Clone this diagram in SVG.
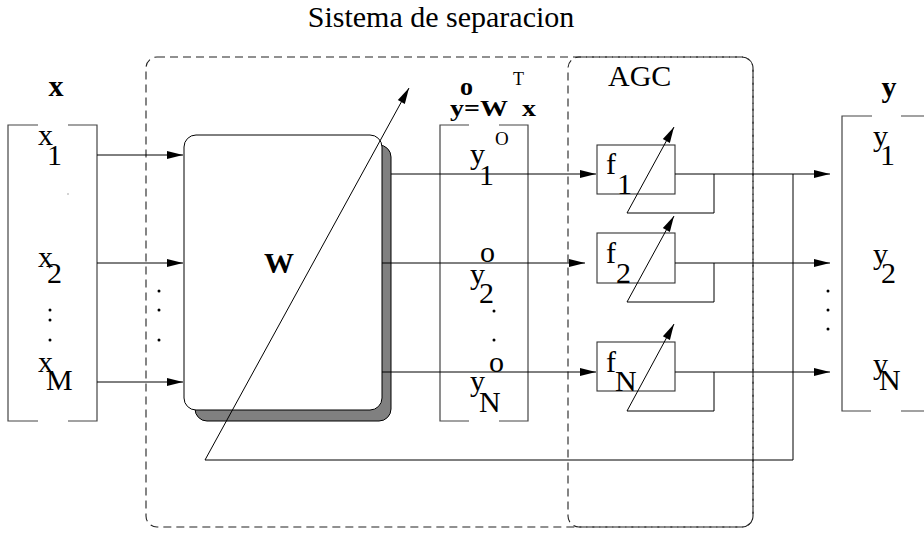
<svg xmlns="http://www.w3.org/2000/svg" width="924" height="534" viewBox="0 0 924 534">
<defs>
<marker id="ah" markerUnits="userSpaceOnUse" markerWidth="17" markerHeight="9" refX="16" refY="4" orient="auto" overflow="visible">
<path d="M0,0 L16,4 L0,8 Z" fill="#000"/>
</marker>
<style>
.t{font-family:"Liberation Serif","Times New Roman",serif;font-size:30px;fill:#000}
.b{font-weight:bold}
.ln{stroke:#000;stroke-width:1;fill:none}
.br{stroke:#444;stroke-width:1.2;fill:none}
.dash{stroke:#222;stroke-width:1.1;fill:none;stroke-dasharray:8 5}
.ar{stroke:#000;stroke-width:1;fill:none;marker-end:url(#ah)}
.dot{fill:#000}
</style>
</defs>
<rect width="924" height="534" fill="#fff"/>

<g id="title"><text class="t" x="441" y="27" text-anchor="middle">Sistema de separacion</text></g>

<g id="sistema"><rect class="dash" x="146" y="57" width="607" height="470" rx="11"/></g>
<g id="agc"><rect class="dash" x="568" y="57" width="185" height="470" rx="11"/>
<text class="t" x="608" y="86">AGC</text></g>

<g id="x-vector">
<text class="t b" x="56" y="96" text-anchor="middle">x</text>
<path class="br" d="M38,125 H8 V421 H38 M68,125 H97 V421 H68"/>
<text class="t" x="38" y="145">x</text><text class="t" x="47" y="165">1</text>
<text class="t" x="38" y="267">x</text><text class="t" x="47" y="283">2</text>
<circle class="dot" cx="50" cy="310" r="1.5"/><circle class="dot" cx="50" cy="320" r="1.5"/><circle class="dot" cx="50" cy="340" r="1.5"/>
<text class="t" x="38" y="372">x</text><text class="t" x="46" y="390">M</text>
<circle cx="68" cy="194" r="0.7" fill="#888"/>
</g>

<g id="W-box">
<rect x="195" y="145" width="196" height="276" rx="12" fill="#808080" stroke="#000" stroke-width="1"/>
<rect x="184" y="135" width="198" height="275" rx="12" fill="#fff" stroke="#000" stroke-width="1"/>
<text class="t b" x="279" y="273" text-anchor="middle">W</text>
</g>

<g id="yo-vector">
<text class="t b" x="460" y="95" style="font-size:26px">o</text>
<text class="t" x="513" y="85" style="font-size:18px">T</text>
<text class="t b" x="450" y="116" style="font-size:28px" transform="translate(0,116) scale(1,0.85) translate(0,-116)">y=W</text>
<text class="t b" x="522" y="116" style="font-size:28px" transform="translate(0,116) scale(1,0.85) translate(0,-116)">x</text>
<path class="br" d="M469,125 H440 V421 H469 M499,125 H528 V421 H499"/>
<text class="t" x="495" y="145" style="font-size:19px">O</text>
<text class="t" x="470" y="164">y</text><text class="t" x="479" y="185">1</text>
<text class="t" x="480" y="262">o</text>
<text class="t" x="470" y="284">y</text><text class="t" x="479" y="303">2</text>
<circle class="dot" cx="494" cy="311" r="1.5"/><circle class="dot" cx="494" cy="340" r="1.5"/>
<text class="t" x="489" y="372">o</text>
<text class="t" x="470" y="391">y</text><text class="t" x="479" y="412">N</text>
</g>

<g id="f1"><rect x="597" y="145" width="78" height="49" fill="none" stroke="#333" stroke-width="1.1"/>
<text class="t" x="606" y="174">f</text><text class="t" x="617" y="194">1</text></g>
<g id="f2"><rect x="597" y="233" width="78" height="50" fill="none" stroke="#333" stroke-width="1.1"/>
<text class="t" x="606" y="263">f</text><text class="t" x="616" y="283">2</text></g>
<g id="fN"><rect x="597" y="342" width="78" height="49" fill="none" stroke="#333" stroke-width="1.1"/>
<text class="t" x="606" y="372">f</text><text class="t" x="615" y="391">N</text></g>

<g id="y-vector">
<text class="t b" x="889" y="97" text-anchor="middle">y</text>
<path class="br" d="M872,116 H842 V411 H871 M901,116 H924 M901,411 H924"/>
<text class="t" x="873" y="146">y</text><text class="t" x="880" y="165">1</text>
<text class="t" x="873" y="264">y</text><text class="t" x="881" y="283">2</text>
<circle class="dot" cx="828" cy="291" r="1.5"/><circle class="dot" cx="828" cy="310" r="1.5"/><circle class="dot" cx="828" cy="329" r="1.5"/>
<text class="t" x="873" y="374">y</text><text class="t" x="879" y="390">N</text>
</g>

<g id="connectors">
<path class="ar" d="M97,155 H183"/>
<path class="ar" d="M97,263 H183"/>
<path class="ar" d="M97,382 H183"/>
<circle class="dot" cx="159" cy="291" r="1.5"/><circle class="dot" cx="159" cy="310" r="1.5"/><circle class="dot" cx="159" cy="340" r="1.5"/>
<path class="ar" d="M391,174 H596"/>
<path class="ar" d="M382,263 H585"/>
<path class="ar" d="M382,372 H596"/>
<path class="ar" d="M675,174 H830"/>
<path class="ar" d="M675,263 H830"/>
<path class="ar" d="M675,372 H830"/>
<path class="ar" d="M714,174 V213 H627 L674,127"/>
<path class="ar" d="M714,263 V302 H627 L674,216"/>
<path class="ar" d="M714,372 V411 H627 L674,324"/>
<path class="ar" d="M793,174 V460 H205 L409,88"/>
</g>
</svg>
